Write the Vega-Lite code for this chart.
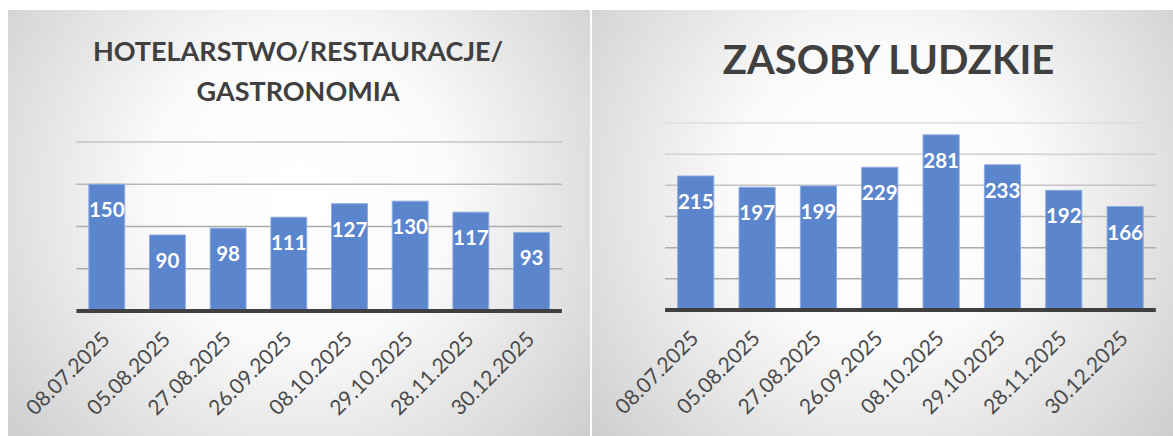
{
  "$schema": "https://vega.github.io/schema/vega-lite/v6.json",
  "padding": {"left": 8, "top": 10, "right": 0, "bottom": 0},
  "spacing": 2,
  "background": "white",
  "config": {"view": {"stroke": null}, "font": "Lato"},
  "datasets": {
    "hotel": [
      {"termin": "08.07.2025", "liczba": 150},
      {"termin": "05.08.2025", "liczba": 90},
      {"termin": "27.08.2025", "liczba": 98},
      {"termin": "26.09.2025", "liczba": 111},
      {"termin": "08.10.2025", "liczba": 127},
      {"termin": "29.10.2025", "liczba": 130},
      {"termin": "28.11.2025", "liczba": 117},
      {"termin": "30.12.2025", "liczba": 93}
    ],
    "hr": [
      {"termin": "08.07.2025", "liczba": 215},
      {"termin": "05.08.2025", "liczba": 197},
      {"termin": "27.08.2025", "liczba": 199},
      {"termin": "26.09.2025", "liczba": 229},
      {"termin": "08.10.2025", "liczba": 281},
      {"termin": "29.10.2025", "liczba": 233},
      {"termin": "28.11.2025", "liczba": 192},
      {"termin": "30.12.2025", "liczba": 166}
    ],
    "grid1": [{"v": 50}, {"v": 100}, {"v": 150}, {"v": 200}],
    "grid2": [{"v": 50}, {"v": 100}, {"v": 150}, {"v": 200}, {"v": 250}, {"v": 300}],
    "base": [{"v": 0}],
    "tlo1": [{"od": -147.9, "do": 356.2}],
    "tlo2": [{"od": -202.1, "do": 481.3}]
  },
  "hconcat": [
    {
      "width": 582,
      "height": 426,
      "title": {"text": ["HOTELARSTWO/RESTAURACJE/", "GASTRONOMIA"], "font": "Lato", "fontSize": 27, "fontWeight": "bold", "color": "#404040", "lineHeight": 40, "baseline": "top", "anchor": "middle", "frame": "group", "offset": -97, "dx": -1},
      "layer": [
        {
          "data": {"name": "tlo1"},
          "mark": {"type": "rect", "color": {"gradient": "radial", "x1": 0.5, "y1": 0.45, "r1": 0, "x2": 0.5, "y2": 0.45, "r2": 0.72,
            "stops": [{"offset": 0, "color": "#ffffff"}, {"offset": 0.35, "color": "#fbfbfb"}, {"offset": 1, "color": "#c6c6c6"}]}},
          "encoding": {
            "y": {"field": "od", "type": "quantitative", "axis": null},
            "y2": {"field": "do"}
          }
        },
        {
          "data": {"name": "grid1"},
          "mark": {"type": "rule", "strokeWidth": 1.5},
          "encoding": {
            "y": {"field": "v", "type": "quantitative", "axis": null},
            "x": {"datum": "08.07.2025", "type": "nominal", "bandPosition": -0.346, "axis": null},
            "x2": {"datum": "30.12.2025", "bandPosition": 1.346},
            "color": {"field": "v", "type": "quantitative", "scale": {"domain": [100, 200], "range": ["#ababab", "#dedede"], "clamp": true}, "legend": null}
          }
        },
        {
          "data": {"name": "hotel"},
          "mark": {"type": "bar", "fill": "#5b85cd", "stroke": "#8eabe0", "strokeWidth": 1},
          "encoding": {
            "x": {"field": "termin", "type": "nominal",
              "scale": {"domain": ["08.07.2025", "05.08.2025", "27.08.2025", "26.09.2025", "08.10.2025", "29.10.2025", "28.11.2025", "30.12.2025"], "paddingInner": 0.409, "paddingOuter": 1.068, "align": 0.666},
              "axis": null},
            "y": {"field": "liczba", "type": "quantitative", "scale": {"domain": [-147.9, 356.2], "nice": false, "zero": false}, "axis": null},
            "y2": {"datum": 0}
          }
        },
        {
          "data": {"name": "base"},
          "mark": {"type": "rule", "color": "#404040", "strokeWidth": 4},
          "encoding": {
            "y": {"field": "v", "type": "quantitative", "axis": null},
            "x": {"datum": "08.07.2025", "type": "nominal", "bandPosition": -0.346, "axis": null},
            "x2": {"datum": "30.12.2025", "bandPosition": 1.346}
          }
        },
        {
          "data": {"name": "hotel"},
          "mark": {"type": "text", "dy": 27, "baseline": "middle", "align": "center", "font": "Lato", "fontSize": 20.5, "fontWeight": "bold", "color": "#ffffff"},
          "encoding": {
            "x": {"field": "termin", "type": "nominal", "axis": null},
            "y": {"field": "liczba", "type": "quantitative", "axis": null},
            "text": {"field": "liczba", "type": "quantitative"}
          }
        },
        {
          "data": {"name": "hotel"},
          "mark": {"type": "text", "angle": -45, "align": "right", "baseline": "middle", "font": "Lato", "fontSize": 21, "color": "#4a4a4a"},
          "encoding": {
            "x": {"field": "termin", "type": "nominal", "axis": null},
            "y": {"datum": -30, "type": "quantitative", "axis": null},
            "text": {"field": "termin", "type": "nominal"}
          }
        }
      ]
    },
    {
      "width": 581,
      "height": 426,
      "title": {"text": "ZASOBY LUDZKIE", "font": "Lato", "fontSize": 40, "fontWeight": "bold", "color": "#404040", "baseline": "top", "anchor": "middle", "frame": "group", "offset": -72, "dx": 6},
      "layer": [
        {
          "data": {"name": "tlo2"},
          "mark": {"type": "rect", "color": {"gradient": "radial", "x1": 0.5, "y1": 0.45, "r1": 0, "x2": 0.5, "y2": 0.45, "r2": 0.72,
            "stops": [{"offset": 0, "color": "#ffffff"}, {"offset": 0.35, "color": "#fbfbfb"}, {"offset": 1, "color": "#c6c6c6"}]}},
          "encoding": {
            "y": {"field": "od", "type": "quantitative", "axis": null},
            "y2": {"field": "do"}
          }
        },
        {
          "data": {"name": "grid2"},
          "mark": {"type": "rule", "strokeWidth": 1.5},
          "encoding": {
            "y": {"field": "v", "type": "quantitative", "axis": null},
            "x": {"datum": "08.07.2025", "type": "nominal", "bandPosition": -0.349, "axis": null},
            "x2": {"datum": "30.12.2025", "bandPosition": 1.349},
            "color": {"field": "v", "type": "quantitative", "scale": {"domain": [200, 300], "range": ["#ababab", "#dedede"], "clamp": true}, "legend": null}
          }
        },
        {
          "data": {"name": "hr"},
          "mark": {"type": "bar", "fill": "#5b85cd", "stroke": "#8eabe0", "strokeWidth": 1},
          "encoding": {
            "x": {"field": "termin", "type": "nominal",
              "scale": {"domain": ["08.07.2025", "05.08.2025", "27.08.2025", "26.09.2025", "08.10.2025", "29.10.2025", "28.11.2025", "30.12.2025"], "paddingInner": 0.411, "paddingOuter": 0.941, "align": 0.742},
              "axis": null},
            "y": {"field": "liczba", "type": "quantitative", "scale": {"domain": [-202.1, 481.3], "nice": false, "zero": false}, "axis": null},
            "y2": {"datum": 0}
          }
        },
        {
          "data": {"name": "base"},
          "mark": {"type": "rule", "color": "#404040", "strokeWidth": 4},
          "encoding": {
            "y": {"field": "v", "type": "quantitative", "axis": null},
            "x": {"datum": "08.07.2025", "type": "nominal", "bandPosition": -0.349, "axis": null},
            "x2": {"datum": "30.12.2025", "bandPosition": 1.349}
          }
        },
        {
          "data": {"name": "hr"},
          "mark": {"type": "text", "dy": 27, "baseline": "middle", "align": "center", "font": "Lato", "fontSize": 20.5, "fontWeight": "bold", "color": "#ffffff"},
          "encoding": {
            "x": {"field": "termin", "type": "nominal", "axis": null},
            "y": {"field": "liczba", "type": "quantitative", "axis": null},
            "text": {"field": "liczba", "type": "quantitative"}
          }
        },
        {
          "data": {"name": "hr"},
          "mark": {"type": "text", "angle": -45, "align": "right", "baseline": "middle", "font": "Lato", "fontSize": 21, "color": "#4a4a4a"},
          "encoding": {
            "x": {"field": "termin", "type": "nominal", "axis": null},
            "y": {"datum": -40.5, "type": "quantitative", "axis": null},
            "text": {"field": "termin", "type": "nominal"}
          }
        }
      ]
    }
  ]
}
